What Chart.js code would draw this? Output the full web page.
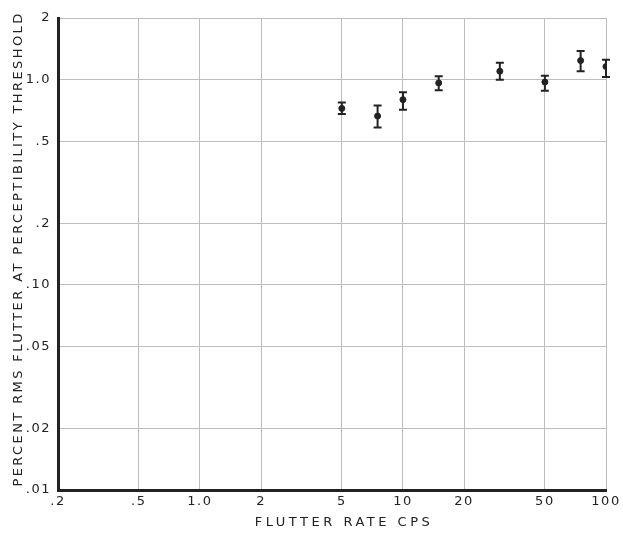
<!DOCTYPE html>
<html>
<head>
<meta charset="utf-8">
<script src="https://cdn.jsdelivr.net/npm/chart.js@4"></script>
<style>
  html, body { margin: 0; padding: 0; background: #fff; }
  #wrap { width: 623px; height: 534px; }
</style>
</head>
<body>
<div id="wrap"><canvas id="chart"></canvas></div>
<script>
// flutter rate (cps) and threshold (% rms), with error bar limits
const rates = [5, 7.5, 10, 15, 30, 50, 75, 100];
const thresholds = [0.725, 0.665, 0.80, 0.965, 1.10, 0.975, 1.24, 1.16];
const errHigh = [0.775, 0.75, 0.87, 1.04, 1.21, 1.045, 1.38, 1.25];
const errLow = [0.68, 0.585, 0.715, 0.89, 1.0, 0.885, 1.10, 1.03];

const xTicks = [0.2, 0.5, 1, 2, 5, 10, 20, 50, 100];
const xTickLabels = ['.2', '.5', '1.0', '2', '5', '10', '20', '50', '100'];
const yTicks = [0.01, 0.02, 0.05, 0.1, 0.2, 0.5, 1, 2];
const yTickLabels = ['.01', '.02', '.05', '.10', '.2', '.5', '1.0', '2'];

const ink = '#222';

// wider letter spacing, titles get their own amount (and a small nudge)
const spacing = {
    id: 'spacing',
    beforeDraw: chart => {
        chart.ctx.letterSpacing = '1.5px';
        [['x', '3.5px', 12, 0], ['y', '2.4px', 1, -5]].forEach(([id, ls, dx, dy]) => {
            const s = chart.scales[id];
            if (s._spaced) return;
            const orig = s.drawTitle.bind(s);
            s.drawTitle = () => {
                const ctx = s.ctx;
                ctx.save();
                ctx.letterSpacing = ls;
                ctx.translate(dx, dy);
                orig();
                ctx.restore();
            };
            s._spaced = true;
        });
    },
};

const errorBars = {
    id: 'errorBars',
    afterDatasetsDraw: chart => {
        const { ctx, scales: { x, y } } = chart;
        ctx.save();
        ctx.strokeStyle = ink;
        ctx.lineWidth = 2;
        rates.forEach((r, i) => {
            const px = x.getPixelForValue(r);
            const top = y.getPixelForValue(errHigh[i]);
            const bot = y.getPixelForValue(errLow[i]);
            ctx.beginPath();
            ctx.moveTo(px, top);
            ctx.lineTo(px, bot);
            ctx.moveTo(px - 4, top);
            ctx.lineTo(px + 4, top);
            ctx.moveTo(px - 4, bot);
            ctx.lineTo(px + 4, bot);
            ctx.stroke();
        });
        ctx.restore();
    },
};

new Chart(document.getElementById('chart'), {
    type: 'scatter',
    data: {
        datasets: [{
            data: rates.map((r, i) => ({ x: r, y: thresholds[i] })),
            backgroundColor: ink,
            borderColor: ink,
            pointRadius: 3,
        }],
    },
    options: {
        responsive: true,
        maintainAspectRatio: false,
        animation: false,
        events: [],
        layout: { padding: { top: 18, right: 17, left: 0, bottom: 0 } },
        plugins: { legend: { display: false }, tooltip: { enabled: false } },
        scales: {
            x: {
                type: 'logarithmic',
                min: 0.2,
                max: 100,
                afterBuildTicks: s => { s.ticks = xTicks.map(v => ({ value: v })); },
                afterFit: s => { s.height = 44; },
                ticks: {
                    autoSkip: false,
                    maxRotation: 0,
                    padding: 4,
                    color: ink,
                    font: { family: 'DejaVu Sans', size: 13 },
                    callback: (v, i) => xTickLabels[i],
                },
                grid: { color: '#bdbdbd', lineWidth: 1, drawTicks: false },
                border: { color: ink, width: 3 },
                title: {
                    display: true,
                    text: 'FLUTTER RATE CPS',
                    color: ink,
                    padding: { top: 2, bottom: 4 },
                    font: { family: 'DejaVu Sans', size: 13 },
                },
            },
            y: {
                type: 'logarithmic',
                min: 0.01,
                max: 2,
                afterBuildTicks: s => { s.ticks = yTicks.map(v => ({ value: v })); },
                afterFit: s => { s.width = 58; },
                ticks: {
                    autoSkip: false,
                    padding: 7,
                    color: ink,
                    font: { family: 'DejaVu Sans', size: 13 },
                    callback: (v, i) => yTickLabels[i],
                },
                grid: { color: '#bdbdbd', lineWidth: 1, drawTicks: false },
                border: { color: ink, width: 3 },
                title: {
                    display: true,
                    text: 'PERCENT RMS FLUTTER AT PERCEPTIBILITY THRESHOLD',
                    color: ink,
                    padding: { top: 10, bottom: 0 },
                    font: { family: 'DejaVu Sans', size: 13 },
                },
            },
        },
    },
    plugins: [spacing, errorBars],
});
</script>
</body>
</html>
